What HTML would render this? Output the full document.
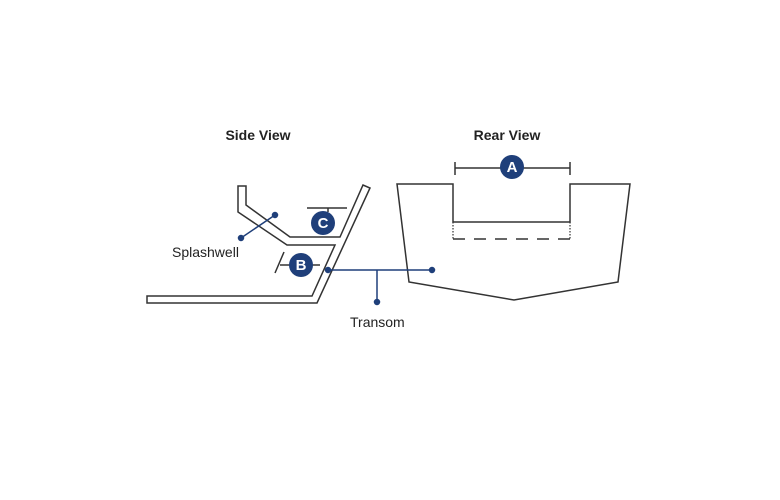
<!DOCTYPE html>
<html><head><style>
body{margin:0;background:#fff}
svg{display:block}
text{font-family:"Liberation Sans",Arial,sans-serif}
</style></head><body>
<svg width="780" height="500" viewBox="0 0 780 500">
<g fill="none" stroke="#333" stroke-width="1.5">
<polygon points="238,186 246,186 246,205 290,237 340,237 363,185 370,188 317,303 147,303 147,296 312,296 335,245 287,245 238,212"/>
<polygon points="397,184 453,184 453,222 570,222 570,184 630,184 618,282 514,300 409,282"/>
<path d="M453,222V239M570,222V239" stroke-dasharray="1.5,1.5" stroke-width="1.2"/>
<path d="M453,239H570" stroke-dasharray="12,9"/>
<path d="M455,168H570M455,162V175M570,162V175"/>
<path d="M307,208H347M328,208V212"/>
<path d="M280,265H320M275,273L284,252"/>
</g>
<g stroke="#1f3f7a" stroke-width="1.5" fill="#1f3f7a">
<line x1="275" y1="215" x2="241" y2="238"/>
<circle cx="275" cy="215" r="2.5"/><circle cx="241" cy="238" r="2.5"/>
<line x1="328" y1="270" x2="432" y2="270"/>
<line x1="377" y1="270" x2="377" y2="302"/>
<circle cx="328" cy="270" r="2.5"/><circle cx="432" cy="270" r="2.5"/><circle cx="377" cy="302" r="2.5"/>
<circle cx="512" cy="167" r="12" stroke="none"/>
<circle cx="323" cy="223" r="12" stroke="none"/>
<circle cx="301" cy="265" r="12" stroke="none"/>
</g>
<g fill="#fff" font-weight="bold" font-size="15" text-anchor="middle">
<text x="512" y="172">A</text><text x="323" y="228">C</text><text x="301" y="270">B</text>
</g>
<g fill="#222" font-size="14">
<text x="258" y="140" text-anchor="middle" font-weight="bold">Side View</text>
<text x="507" y="140" text-anchor="middle" font-weight="bold">Rear View</text>
<text x="172" y="257">Splashwell</text>
<text x="350" y="327">Transom</text>
</g>
</svg>
</body></html>
